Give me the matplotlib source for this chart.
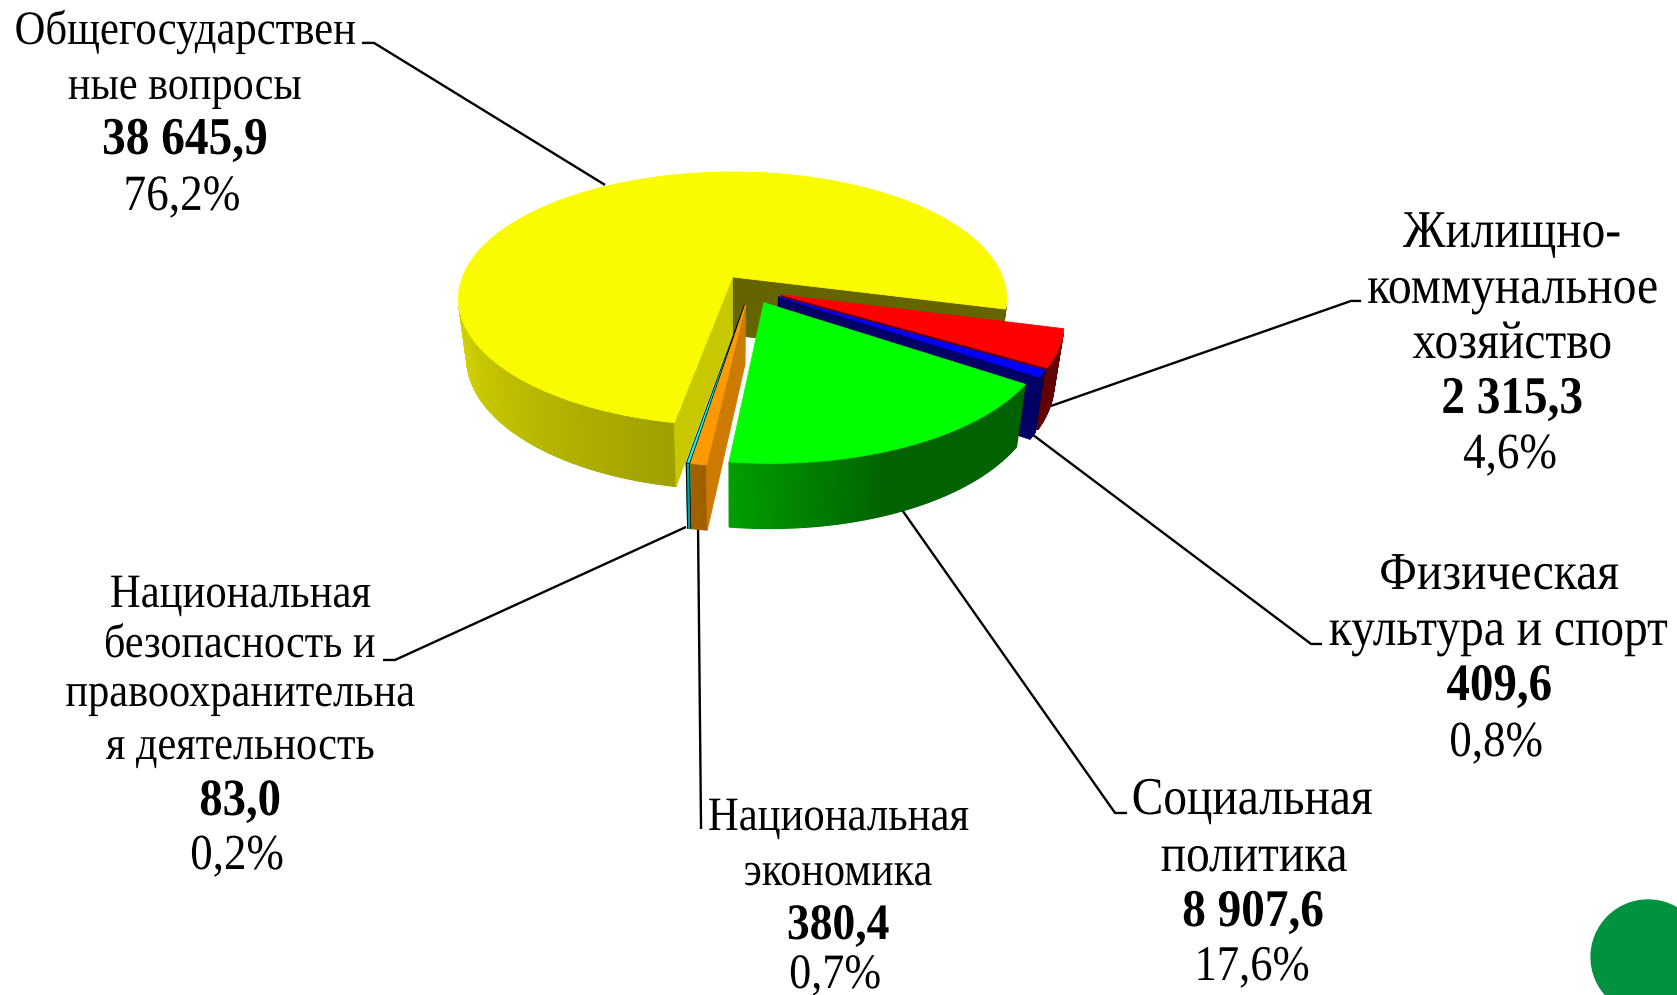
import numpy as np
import matplotlib

matplotlib.use("Agg")
import matplotlib.pyplot as plt
from matplotlib.patches import Circle, Polygon
from matplotlib.patheffects import AbstractPathEffect
from matplotlib.transforms import Affine2D

plt.rcParams["font.family"] = ["Liberation Serif", "DejaVu Serif"]

# slices in drawing direction (counter clockwise from the right edge of yellow)
categories = [
    "Общегосударственные вопросы",
    "Национальная безопасность и правоохранительная деятельность",
    "Национальная экономика",
    "Социальная политика",
    "Физическая культура и спорт",
    "Жилищно-коммунальное хозяйство",
]
values = [38645.9, 83.0, 380.4, 8907.6, 409.6, 2315.3]
percents = ["76,2%", "0,2%", "0,7%", "17,6%", "0,8%", "4,6%"]

top_colors = ["#fafa00", "#00ffff", "#ff9900", "#00ff00", "#0000ff", "#ff0000"]
# how far each slice is pulled out of the pie
offsets = [
    (0.0, 0.0),
    (0.043, -0.217),
    (0.046, -0.217),
    (0.112, -0.202),
    (0.165, -0.157),
    (0.176, -0.142),
]
draw_order = [0, 5, 4, 3, 1, 2]

# label lines: text, centre x, baseline y, width in px
label_lines = {
    0: [("Общегосударствен", 185, 44, 342), ("ные вопросы", 185, 99, 234)],
    1: [
        ("Национальная", 240, 607, 261),
        ("безопасность и", 240, 657, 272),
        ("правоохранительна", 240, 706, 350),
        ("я деятельность", 240, 759, 269),
    ],
    2: [("Национальная", 838, 830, 261), ("экономика", 838, 885, 189)],
    3: [("Социальная", 1252, 814, 241), ("политика", 1254, 871, 187)],
    4: [("Физическая", 1499, 589, 240), ("культура и спорт", 1498, 645, 339)],
    5: [
        ("Жилищно-", 1512, 247, 218),
        ("коммунальное", 1513, 303, 291),
        ("хозяйство", 1512, 358, 200),
    ],
}
value_lines = {
    0: (185, 154, 166),
    1: (240, 815, 82),
    2: (838, 939, 103),
    3: (1253, 926, 142),
    4: (1499, 700, 106),
    5: (1512, 413, 142),
}
percent_lines = {
    0: (182, 210, 117),
    1: (237, 869, 94),
    2: (835, 988, 92),
    3: (1252, 980, 115),
    4: (1496, 756, 94),
    5: (1510, 468, 94),
}
leaders = [
    [(362, 43), (374, 43), (605, 185)],
    [(383, 660), (395, 660), (686, 527)],
    [(701, 829), (698, 528)],
    [(1127, 813), (1115, 813), (902, 510)],
    [(1322, 644), (1311, 644), (1033, 435)],
    [(1361, 301), (1351, 301), (1051, 406)],
]

CX, CY = 732.5, 277
A, B, K = 270, 123, 0.172
START_ANGLE = -14.5
TEXT_STRETCH = 1.12


class TallText(AbstractPathEffect):
    # the reference text is narrow and tall, so stretch it upward from the baseline
    def __init__(self, base_y, factor):
        super().__init__()
        self.base_y = base_y
        self.factor = factor

    def draw_path(self, renderer, gc, tpath, affine, rgbFace=None):
        stretch = Affine2D().translate(0, -self.base_y).scale(1, self.factor).translate(0, self.base_y)
        renderer.draw_path(gc, tpath, affine + stretch, rgbFace)


def project(x, y, bottom=False):
    w = 1 + K * y
    sx = A * x / w
    sy = -B * y / w
    if bottom:
        sx = sx * 0.97
        sy = sy + 58 - 6 * y
    return np.column_stack([CX + sx, CY + sy])


def shade(angle):
    return np.interp(angle % 360, [0, 180, 262, 290, 360], [0.39, 0.9, 0.63, 0.39, 0.39])


def scaled(color, factor):
    return np.array(matplotlib.colors.to_rgb(color)) * factor


def signed_area(pts):
    x, y = pts[:, 0], pts[:, 1]
    return np.sum(x * np.roll(y, -1) - np.roll(x, -1) * y)


def draw_slice(ax, start, sweep, color, offset, outline):
    ox, oy = offset
    angles = np.radians(np.linspace(start, start + sweep, max(int(sweep * 2), 2) + 1))
    xs = ox + np.cos(angles)
    ys = oy + np.sin(angles)
    top = project(xs, ys)
    bot = project(xs, ys, bottom=True)
    apex_top = project(np.array([ox]), np.array([oy]))
    apex_bot = project(np.array([ox]), np.array([oy]), bottom=True)
    edge = "black" if outline else None

    # outer wall, one thin quad per step so the shading runs along the arc
    degs = np.degrees(angles)
    for i in range(len(angles) - 1):
        quad = np.array([top[i], top[i + 1], bot[i + 1], bot[i]])
        if signed_area(quad) <= 0:
            continue
        c = scaled(color, shade((degs[i] + degs[i + 1]) / 2))
        ax.add_patch(Polygon(quad, facecolor=c, edgecolor=c, lw=0.8))

    if outline:
        ax.plot([top[0][0], bot[0][0]], [top[0][1], bot[0][1]], color="black", lw=0.7, zorder=1)
        ax.plot([top[-1][0], bot[-1][0]], [top[-1][1], bot[-1][1]], color="black", lw=0.7, zorder=1)

    # cut faces
    for idx, sign, factor in [(0, 1, 0.4), (-1, -1, 0.8)]:
        quad = np.array([apex_top[0], top[idx], bot[idx], apex_bot[0]])
        if signed_area(quad) * sign > 0:
            ax.add_patch(
                Polygon(quad, facecolor=scaled(color, factor), edgecolor=edge or scaled(color, factor), lw=0.6)
            )

    face = np.vstack([apex_top, top])
    ax.add_patch(Polygon(face, facecolor=color, edgecolor=edge or color, lw=0.6))


def fitted_text(ax, renderer, s, cx, base, width, bold=False):
    t = ax.text(cx, base, s, ha="center", va="baseline", fontsize=32, color="black",
                fontweight="bold" if bold else "normal")
    w = t.get_window_extent(renderer).width
    t.set_fontsize(32 * width / w)
    base_y = ax.transData.transform((cx, base))[1]
    t.set_path_effects([TallText(base_y, TEXT_STRETCH)])


def main():
    fig = plt.figure(figsize=(16.771, 9.951), dpi=100)
    ax = fig.add_axes([0, 0, 1, 1])
    ax.set_xlim(0, 1677)
    ax.set_ylim(995, 0)
    ax.axis("off")
    renderer = fig.canvas.get_renderer()

    for pts in leaders:
        xs, ys = zip(*pts)
        ax.plot(xs, ys, color="black", lw=1.7, zorder=0.5, solid_capstyle="butt")

    total = sum(values)
    sweeps = [v / total * 360 for v in values]
    starts = START_ANGLE + np.concatenate([[0], np.cumsum(sweeps)[:-1]])

    for i in draw_order:
        draw_slice(ax, starts[i], sweeps[i], top_colors[i], offsets[i], i == 1)

    for i in range(len(categories)):
        for s, cx, base, width in label_lines[i]:
            fitted_text(ax, renderer, s, cx, base, width)
        value_text = f"{values[i]:,.1f}".replace(",", " ").replace(".", ",")
        cx, base, width = value_lines[i]
        fitted_text(ax, renderer, value_text, cx, base, width, bold=True)
        cx, base, width = percent_lines[i]
        fitted_text(ax, renderer, percents[i], cx, base, width)

    ax.add_patch(Circle((1648, 957), 57, color="#00923f"))

    fig.savefig("out.png", dpi=100)


if __name__ == "__main__":
    main()
